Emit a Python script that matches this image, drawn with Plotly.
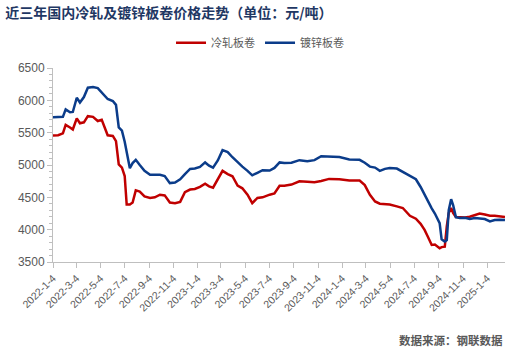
import plotly.graph_objects as go

dates = [
    "2022-01-04", "2022-01-17", "2022-01-29", "2022-02-05", "2022-02-16", "2022-02-23",
    "2022-03-05", "2022-03-13", "2022-03-23", "2022-04-02", "2022-04-15", "2022-04-27",
    "2022-05-07", "2022-05-15", "2022-05-22", "2022-06-04", "2022-06-12", "2022-06-19",
    "2022-06-27", "2022-07-04", "2022-07-09", "2022-07-17", "2022-07-24", "2022-08-01",
    "2022-08-11", "2022-08-23", "2022-09-06", "2022-09-18", "2022-10-01", "2022-10-13",
    "2022-10-26", "2022-11-08", "2022-11-21", "2022-12-03", "2022-12-16", "2022-12-28",
    "2023-01-10", "2023-01-23", "2023-02-02", "2023-02-12", "2023-02-24", "2023-03-08",
    "2023-03-21", "2023-04-02", "2023-04-15", "2023-04-27", "2023-05-10", "2023-05-22",
    "2023-06-04", "2023-06-17", "2023-07-05", "2023-07-17", "2023-07-30", "2023-08-11",
    "2023-08-29", "2023-09-18", "2023-10-08", "2023-10-26", "2023-11-12", "2023-12-02",
    "2023-12-28", "2024-01-22", "2024-02-17", "2024-03-01", "2024-03-14", "2024-03-27",
    "2024-04-08", "2024-04-21", "2024-05-03", "2024-05-21", "2024-06-05", "2024-06-23",
    "2024-07-08", "2024-07-20", "2024-07-30", "2024-08-07", "2024-08-17", "2024-08-25",
    "2024-09-01", "2024-09-06", "2024-09-11", "2024-09-19", "2024-09-24", "2024-09-29",
    "2024-10-05", "2024-10-10", "2024-10-17", "2024-10-27", "2024-11-09", "2024-11-21",
    "2024-12-04", "2024-12-16", "2024-12-29", "2025-01-11", "2025-01-23", "2025-02-05",
    "2025-02-18",
]

cold_rolled = [
    5458, 5460, 5490, 5620, 5580, 5550,
    5720, 5645, 5660, 5755, 5745, 5680,
    5700, 5580, 5460, 5450, 5370, 5010,
    4960, 4830, 4390, 4390, 4420, 4608,
    4590, 4515, 4490, 4500, 4540, 4530,
    4420, 4410, 4430, 4580, 4620, 4630,
    4661, 4710, 4670, 4650, 4770, 4910,
    4860, 4826, 4680, 4640, 4540, 4410,
    4490, 4500, 4541, 4560, 4680, 4680,
    4697, 4748, 4740, 4735, 4752, 4785,
    4780, 4760, 4760, 4690, 4540, 4437,
    4401, 4400, 4390, 4360, 4335, 4215,
    4170, 4090, 3997, 3893, 3764, 3770,
    3740, 3712, 3730, 3738, 4049, 4257,
    4334, 4260, 4194, 4190, 4190, 4200,
    4230, 4250, 4235, 4215, 4215, 4210,
    4194,
]

galvanized = [
    5740, 5740, 5745, 5860, 5815, 5820,
    6040, 5966, 6050, 6195, 6205, 6190,
    6120, 6080, 6020, 5990, 5930, 5580,
    5530, 5360, 5200, 4950, 5030, 5080,
    5000, 4910, 4850, 4855, 4850, 4830,
    4720, 4730, 4780, 4860, 4940, 4945,
    4970, 5040, 4990, 4960, 5070, 5230,
    5200, 5120, 5040, 4975, 4910, 4840,
    4880, 4920, 4915, 4955, 5040, 5030,
    5035, 5075, 5060, 5075, 5135, 5130,
    5125, 5085, 5080, 5035, 4975, 4960,
    4910, 4940, 4955, 4945, 4890, 4836,
    4780, 4660, 4540, 4440, 4330, 4250,
    4150, 4100, 3850, 3815, 3840, 4300,
    4470, 4380, 4194, 4180, 4185, 4165,
    4180, 4170, 4165, 4127, 4150, 4155,
    4150,
]

tick_dates = [
    "2022-01-04", "2022-03-04", "2022-05-04", "2022-07-04", "2022-09-04", "2022-11-04",
    "2023-01-04", "2023-03-04", "2023-05-04", "2023-07-04", "2023-09-04", "2023-11-04",
    "2024-01-04", "2024-03-04", "2024-05-04", "2024-07-04", "2024-09-04", "2024-11-04",
    "2025-01-04",
]
tick_labels = [
    "2022-1-4", "2022-3-4", "2022-5-4", "2022-7-4", "2022-9-4", "2022-11-4",
    "2023-1-4", "2023-3-4", "2023-5-4", "2023-7-4", "2023-9-4", "2023-11-4",
    "2024-1-4", "2024-3-4", "2024-5-4", "2024-7-4", "2024-9-4", "2024-11-4",
    "2025-1-4",
]

RED = "#C00000"
BLUE = "#0B3C8A"
GREY = "#595959"
AXIS = "#BFBFBF"
CJK = "Noto Sans CJK SC"
LAT = "Liberation Sans"

fig = go.Figure()
fig.add_trace(go.Scatter(x=dates, y=cold_rolled, mode="lines", name="冷轧板卷",
                         line=dict(color=RED, width=2.5)))
fig.add_trace(go.Scatter(x=dates, y=galvanized, mode="lines", name="镀锌板卷",
                         line=dict(color=BLUE, width=2.5)))

fig.update_layout(
    width=515, height=353,
    margin=dict(l=53, r=10, t=68, b=91, autoexpand=False),
    paper_bgcolor="white", plot_bgcolor="white",
    showlegend=True,
    legend=dict(orientation="h", x=0.458, xanchor="center",
                y=1.13, yanchor="middle",
                font=dict(family=CJK, size=11, color=GREY),
                itemwidth=30, tracegroupgap=0, bgcolor="rgba(0,0,0,0)"),
    title=dict(text="<b>近三年国内冷轧及镀锌板卷价格走势（单位：元/吨）</b>",
               x=0.01, xanchor="left", y=0.963, yanchor="middle",
               font=dict(family=CJK, size=14, color="#1F3864")),
    xaxis=dict(
        type="date",
        range=["2022-01-04", "2025-02-18"],
        tickvals=tick_dates, ticktext=tick_labels,
        tickangle=-45,
        tickfont=dict(family=LAT, size=10.5, color=GREY),
        showgrid=False, zeroline=False,
        showline=True, linecolor=AXIS, linewidth=1,
        ticks="outside", ticklen=5, tickcolor=AXIS,
    ),
    yaxis=dict(
        range=[3500, 6500],
        tickvals=[3500, 4000, 4500, 5000, 5500, 6000, 6500],
        tickfont=dict(family=LAT, size=12, color=GREY),
        showgrid=False, zeroline=False,
        showline=True, linecolor=AXIS, linewidth=1,
        ticks="outside", ticklen=5, tickcolor=AXIS,
        minor=dict(dtick=100, ticks="outside", ticklen=3, tickcolor=AXIS, showgrid=False),
    ),
    annotations=[
        dict(text="<b>数据来源：钢联数据</b>", x=1.0, xref="paper", xanchor="right",
             y=-(340 - 262) / (262 - 68), yref="paper", yanchor="middle",
             showarrow=False,
             font=dict(family=CJK, size=11.5, color=GREY)),
    ],
)

fig.write_html("out.html")
